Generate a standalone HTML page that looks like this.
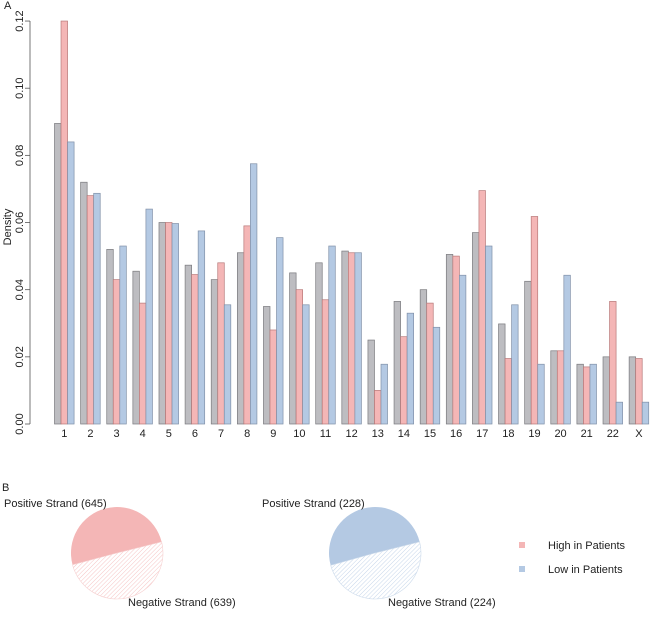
<!DOCTYPE html>
<html><head><meta charset="utf-8"><style>
body{margin:0;background:#fff}
svg text{font-family:"Liberation Sans",Arial,sans-serif;fill:#222}
</style></head><body>
<svg id="c" width="650" height="621" viewBox="0 0 650 621">
<defs>
<pattern id="hp" width="3" height="3" patternUnits="userSpaceOnUse" patternTransform="rotate(45)"><rect width="3" height="3" fill="#fff"/><line x1="0" y1="0" x2="0" y2="3" stroke="#f6c4c4" stroke-width="1"/></pattern>
<pattern id="hb" width="3" height="3" patternUnits="userSpaceOnUse" patternTransform="rotate(45)"><rect width="3" height="3" fill="#fff"/><line x1="0" y1="0" x2="0" y2="3" stroke="#c6d6ea" stroke-width="1"/></pattern>
</defs>
<text x="4" y="9" font-size="11">A</text>
<text x="2" y="491" font-size="11">B</text>
<g id="bars"></g><g id="axis"></g><g id="pies"></g>
<g>
<rect x="519" y="542" width="6" height="6" fill="#f4b6b6"/>
<text x="548" y="549" font-size="11">High in Patients</text>
<rect x="519" y="566" width="6" height="6" fill="#b4c9e3"/>
<text x="548" y="573" font-size="11">Low in Patients</text>
</g>
</svg>
<script>
const categories=["1","2","3","4","5","6","7","8","9","10","11","12","13","14","15","16","17","18","19","20","21","22","X"];
const allVals=[.0895,.072,.052,.0455,.060,.0473,.043,.051,.035,.045,.048,.0515,.025,.0365,.040,.0505,.057,.0298,.0425,.0218,.0178,.020,.020];
const highVals=[.120,.068,.043,.036,.060,.0445,.048,.059,.028,.040,.037,.051,.010,.026,.036,.050,.0695,.0195,.0618,.0218,.017,.0365,.0195];
const lowVals=[.084,.0687,.053,.064,.0597,.0575,.0355,.0775,.0555,.0355,.053,.051,.0178,.033,.0288,.0443,.053,.0355,.0178,.0443,.0178,.0065,.0065];
const yTicks=[0,0.02,0.04,0.06,0.08,0.10,0.12];
const yTickLabels=["0.00","0.02","0.04","0.06","0.08","0.10","0.12"];
const pieHigh=[645,639];
const pieLow=[228,224];
const NS="http://www.w3.org/2000/svg";
function mk(t,a,p){const e=document.createElementNS(NS,t);for(const k in a)e.setAttribute(k,a[k]);p.appendChild(e);return e;}
const y=v=>424-v*3358;
const unit=6.53, x0=54.5;
const gx=i=>x0+i*4*unit;
const bars=document.getElementById('bars');
const series=[[allVals,'#bdbdc1','#7a7a7e','all'],[highVals,'#f4b6b6','#b87878','high'],[lowVals,'#b4c9e3','#8090a8','low']];
categories.forEach((c,i)=>{
 series.forEach((s,j)=>{
  const v=s[0][i];
  const r=mk('rect',{x:gx(i)+j*unit,y:y(v),width:unit,height:424-y(v),fill:s[1],stroke:s[2],'stroke-width':0.7},bars);
  
  
 });
 const t=mk('text',{x:gx(i)+1.5*unit,y:437,'font-size':11,'text-anchor':'middle'},bars);
 t.textContent=c;
 
 
});
const ax=document.getElementById('axis');
const al=mk('line',{x1:30,x2:30,y1:y(0),y2:y(0.12),stroke:'#555','stroke-width':0.8},ax);


yTicks.forEach((v,i)=>{
 mk('line',{x1:25,x2:30,y1:y(v),y2:y(v),stroke:'#555','stroke-width':0.8},ax);
 const t=mk('text',{x:0,y:0,'font-size':11,'text-anchor':'middle',transform:`translate(23,${y(v)}) rotate(-90)`},ax);
 t.textContent=yTickLabels[i];
 
 
});
const yt=mk('text',{x:0,y:0,'font-size':11,'text-anchor':'middle',transform:'translate(11,227) rotate(-90)'},ax);
yt.textContent='Density';


const pies=document.getElementById('pies');
function pie(cx,cy,vals,col,hatch,stroke,name,l1,l2){
 const rx=46,ry=46,a0=14*Math.PI/180;
 const f=vals[0]/(vals[0]+vals[1]);
 const a1=a0+f*2*Math.PI;
 const P=a=>[cx+rx*Math.cos(a),cy-ry*Math.sin(a)];
 const p0=P(a0),p1=P(a1);
 const s1=mk('path',{d:`M${cx},${cy}L${p0}A${rx},${ry} 0 ${f>0.5?1:0} 0 ${p1}Z`,fill:col},pies);
 
 
 const s2=mk('path',{d:`M${cx},${cy}L${p1}A${rx},${ry} 0 ${f<0.5?1:0} 0 ${p0}Z`,fill:hatch,stroke:stroke,'stroke-width':0.6},pies);
 
 
 const t1=mk('text',{x:l1[0],y:l1[1],'font-size':11},pies);
 t1.textContent='Positive Strand ('+vals[0]+')';
 
 
 const t2=mk('text',{x:l2[0],y:l2[1],'font-size':11},pies);
 t2.textContent='Negative Strand ('+vals[1]+')';
 
 
}
pie(117,553,pieHigh,'#f4b6b6','url(#hp)','#f6d0d0','pie-high',[4,507],[128,606]);
pie(375,553,pieLow,'#b4c9e3','url(#hb)','#cddbeb','pie-low',[262,507],[388,606]);
</script>
</body></html>
